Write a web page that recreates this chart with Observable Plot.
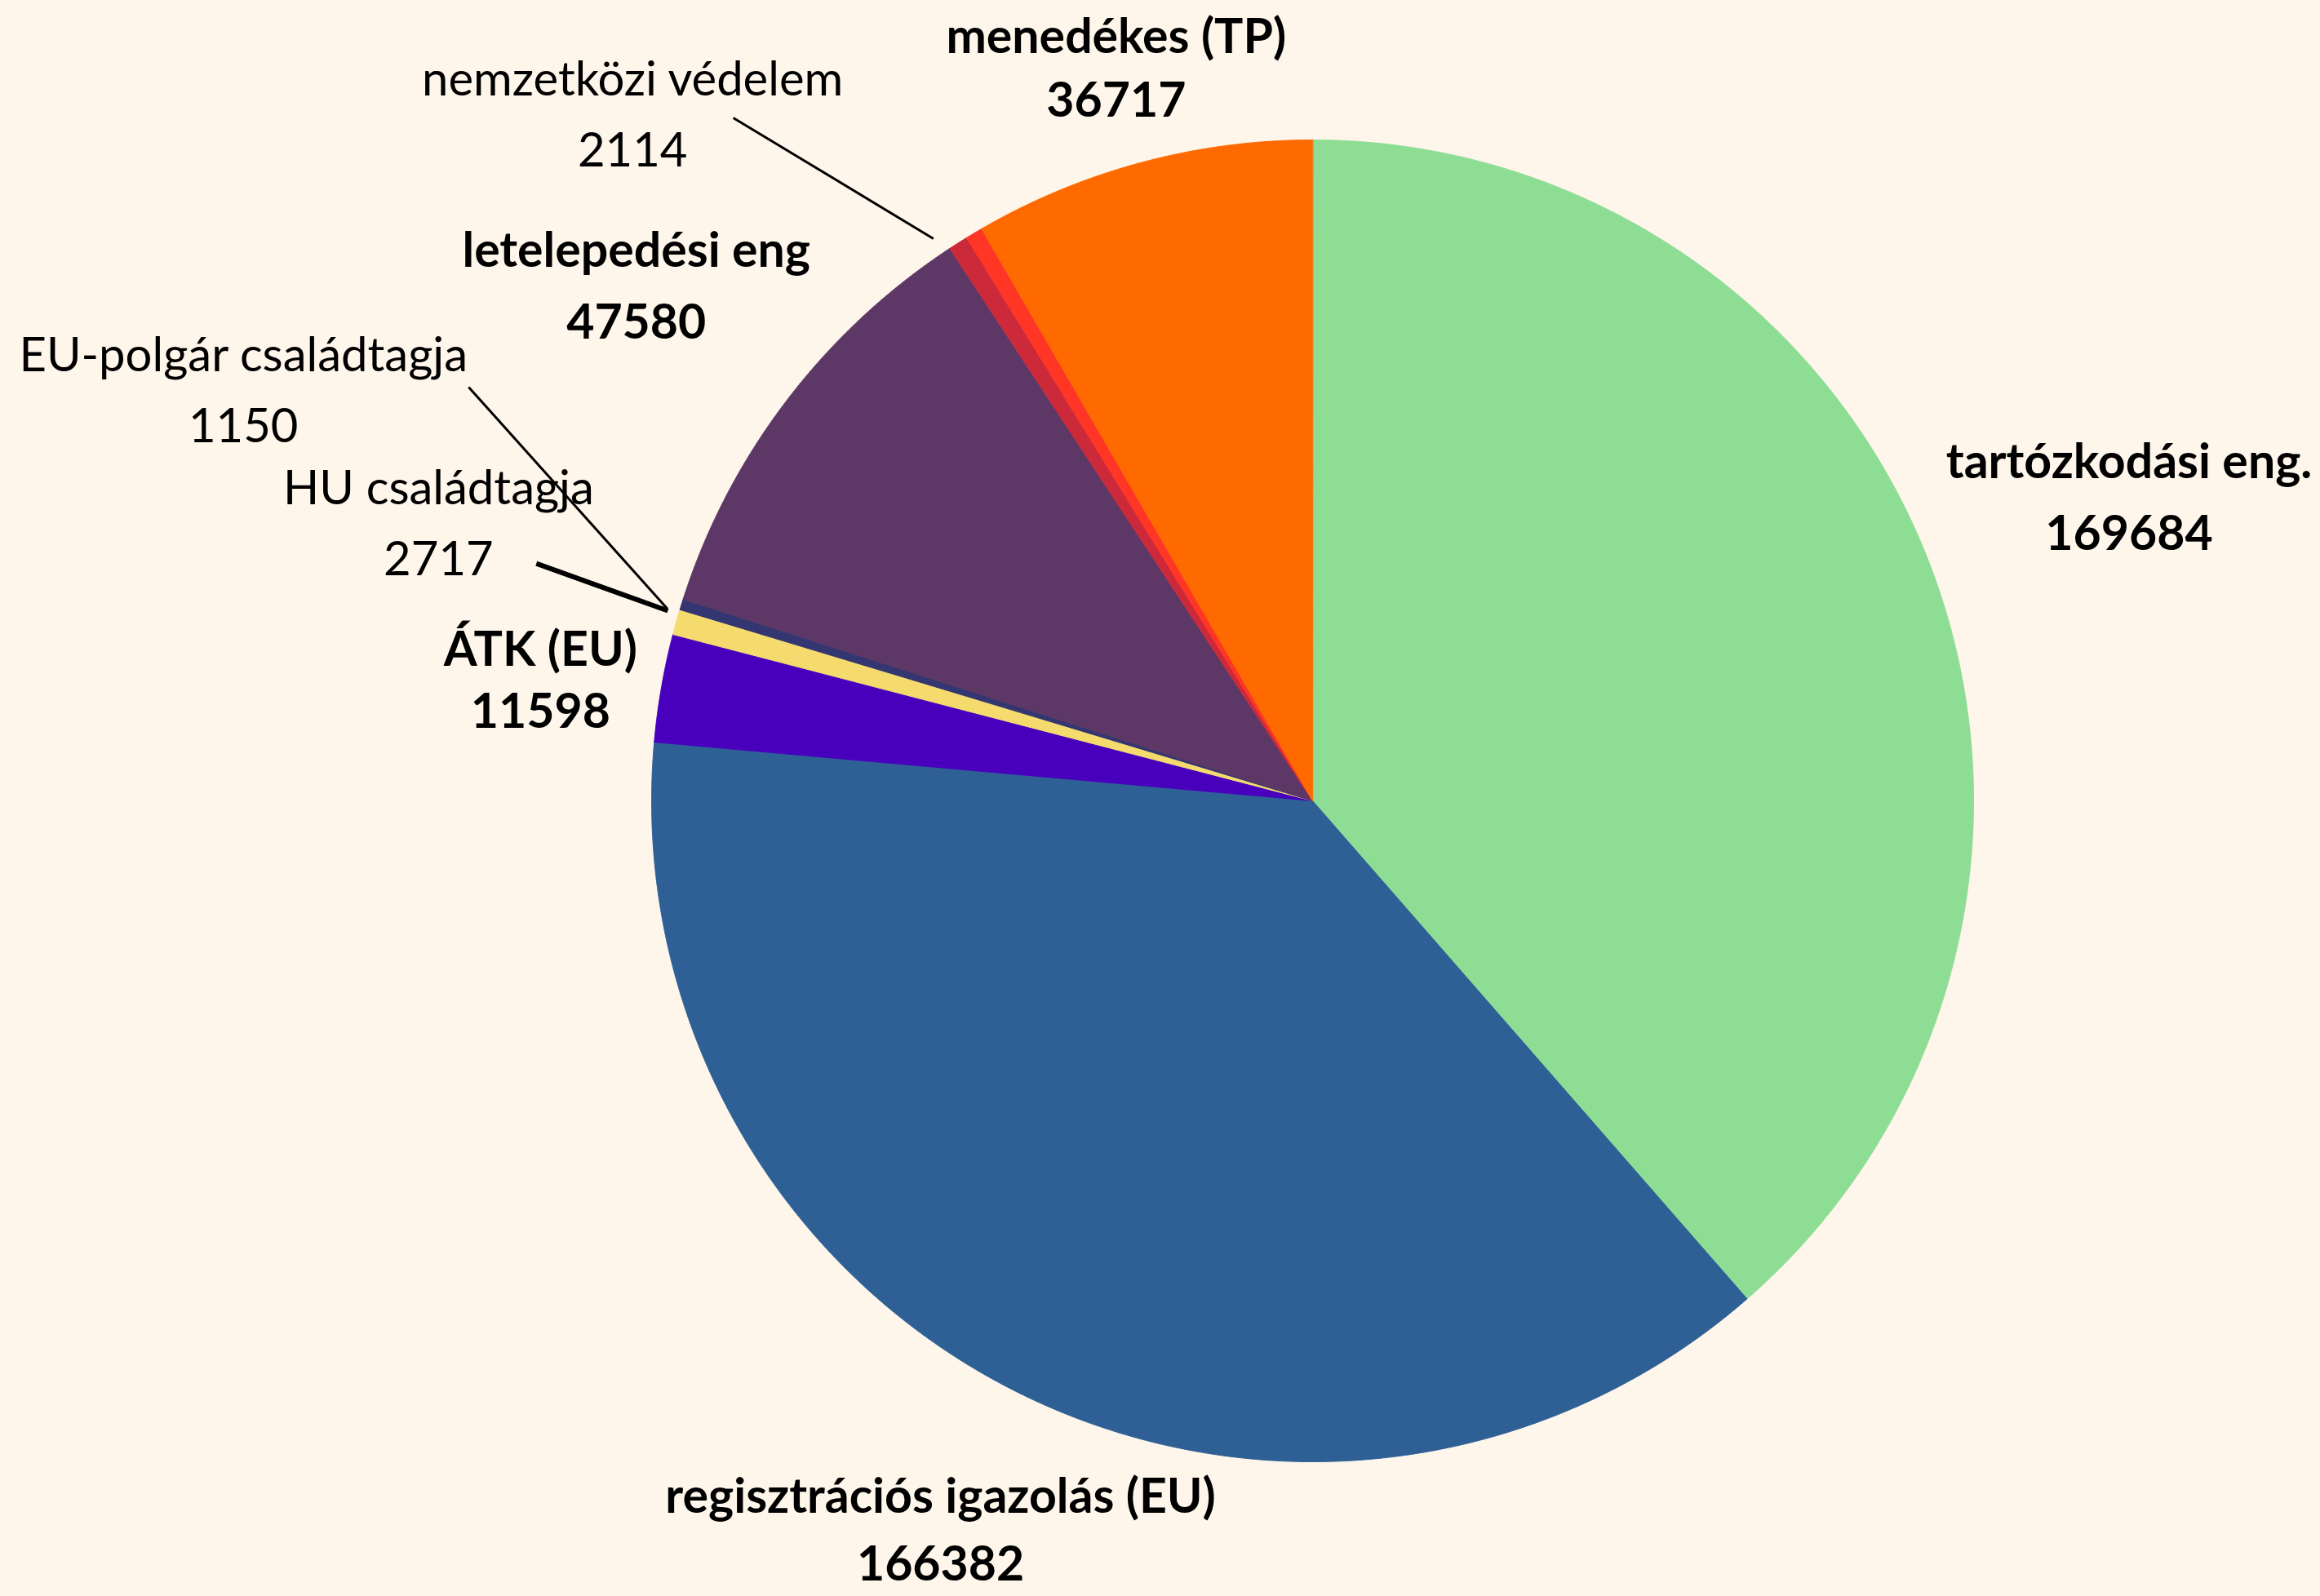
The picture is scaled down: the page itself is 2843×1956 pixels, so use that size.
<!DOCTYPE html>
<html>
<head>
<meta charset="utf-8">
<script src="https://cdn.jsdelivr.net/npm/d3@7"></script>
<script src="https://cdn.jsdelivr.net/npm/@observablehq/plot@0.6"></script>
<style>
  html, body { margin: 0; padding: 0; background: #fef6ea; }
  #chart { width: 2843px; height: 1956px; }
</style>
</head>
<body>
<div id="chart"></div>
<script>
// ---- data (clockwise from 12 o'clock) ----
const categories = [
  "tartózkodási eng.",
  "regisztrációs igazolás (EU)",
  "ÁTK (EU)",
  "HU családtagja",
  "EU-polgár családtagja",
  "letelepedési eng",
  "nemzetközi védelem",
  "egyéb",
  "menedékes (TP)"
];
const values = [169684, 166382, 11598, 2717, 1150, 47580, 2114, 1850, 36717];
const colors = ["#8edd95", "#2e6096", "#4800bd", "#f5db6e", "#333670", "#5d3866", "#cc2a3a", "#ff3526", "#ff6a00"];

// ---- label layout (polar: angle in degrees clockwise from top, radius in pie radii; gap = line spacing px) ----
const labelLayout = [
  { name: "tartózkodási eng.", bold: true, r: 1.317, angle: 69.7, gap: 88 },
  { name: "regisztrációs igazolás (EU)", bold: true, r: 1.24, gap: 83 },
  { name: "ÁTK (EU)", bold: true, r: 1.182, angle: 278.8, gap: 76 },
  { name: "HU családtagja", bold: false, r: 1.387, angle: 287.56, gap: 87, leader: { a1: 287.0, r1: 1.228, a2: 286.43, r2: 1.017, w: 6 } },
  { name: "EU-polgár családtagja", bold: false, r: 1.732, angle: 290.94, gap: 87, leader: { a1: 296.12, r1: 1.422, a2: 286.6, r2: 1.019, w: 3 } },
  { name: "letelepedési eng", bold: true, r: 1.285, gap: 88 },
  { name: "nemzetközi védelem", bold: false, r: 1.460, angle: 315.2, gap: 87, leader: { a1: 319.7, r1: 1.355, a2: 326.0, r2: 1.026, w: 3 } },
  { name: "menedékes (TP)", bold: true, r: 1.146, gap: 78 }
];

// ---- layout constants ----
const W = 2843, H = 1956, CX = 1608, CY = 981, R = 810;
const BG = "#fef6ea";

const rows = categories.map((name, i) => ({ name, value: values[i] }));
const arcs = d3.pie().sort(null).value(d => d.value).startAngle(0).endAngle(2 * Math.PI)(rows);
const arcByName = new Map(arcs.map(a => [a.data.name, a]));

// slice outlines (unit circle, y down)
const slicePoints = arcs.flatMap(a => {
  const n = Math.max(2, Math.ceil((a.endAngle - a.startAngle) / 0.002));
  const pts = [{ name: a.data.name, x: 0, y: 0 }];
  for (let k = 0; k <= n; k++) {
    const t = a.startAngle + (a.endAngle - a.startAngle) * k / n;
    pts.push({ name: a.data.name, x: Math.sin(t), y: -Math.cos(t) });
  }
  return pts;
});

const rad = d => d * Math.PI / 180;
const labelRows = labelLayout.flatMap(l => {
  const a = arcByName.get(l.name);
  const ang = l.angle != null ? rad(l.angle) : (a.startAngle + a.endAngle) / 2;
  const x = l.r * Math.sin(ang);
  const y = -l.r * Math.cos(ang);
  return [
    { bold: l.bold, x, y: y - l.gap / 2 / R, text: l.name },
    { bold: l.bold, x, y: y + l.gap / 2 / R, text: String(a.data.value) }
  ];
});
const leaders = labelLayout.filter(l => l.leader).map(l => {
  const L = l.leader;
  return {
    x1: L.r1 * Math.sin(rad(L.a1)), y1: -L.r1 * Math.cos(rad(L.a1)),
    x2: L.r2 * Math.sin(rad(L.a2)), y2: -L.r2 * Math.cos(rad(L.a2)),
    w: L.w
  };
});

const chart = Plot.plot({
  width: W,
  height: H,
  margin: 0,
  x: { domain: [-CX / R, (W - CX) / R], range: [0, W], axis: null },
  y: { domain: [-CY / R, (H - CY) / R], range: [0, H], axis: null },
  color: { domain: categories, range: colors },
  style: { background: BG, fontFamily: "Lato, 'Open Sans', sans-serif" },
  marks: [
    Plot.line(slicePoints, { x: "x", y: "y", z: "name", fill: "name", stroke: "name", strokeWidth: 1, curve: "linear-closed" }),
    Plot.text(labelRows.filter(d => d.bold), { x: "x", y: "y", text: "text", fontSize: 59, fontWeight: 700, fill: "#000", textAnchor: "middle" }),
    Plot.text(labelRows.filter(d => !d.bold), { x: "x", y: "y", text: "text", fontSize: 58, fontWeight: 400, fill: "#000", textAnchor: "middle" }),
    Plot.link(leaders, { x1: "x1", y1: "y1", x2: "x2", y2: "y2", stroke: "#000", strokeWidth: "w" })
  ]
});
document.getElementById("chart").appendChild(chart);
</script>
</body>
</html>
